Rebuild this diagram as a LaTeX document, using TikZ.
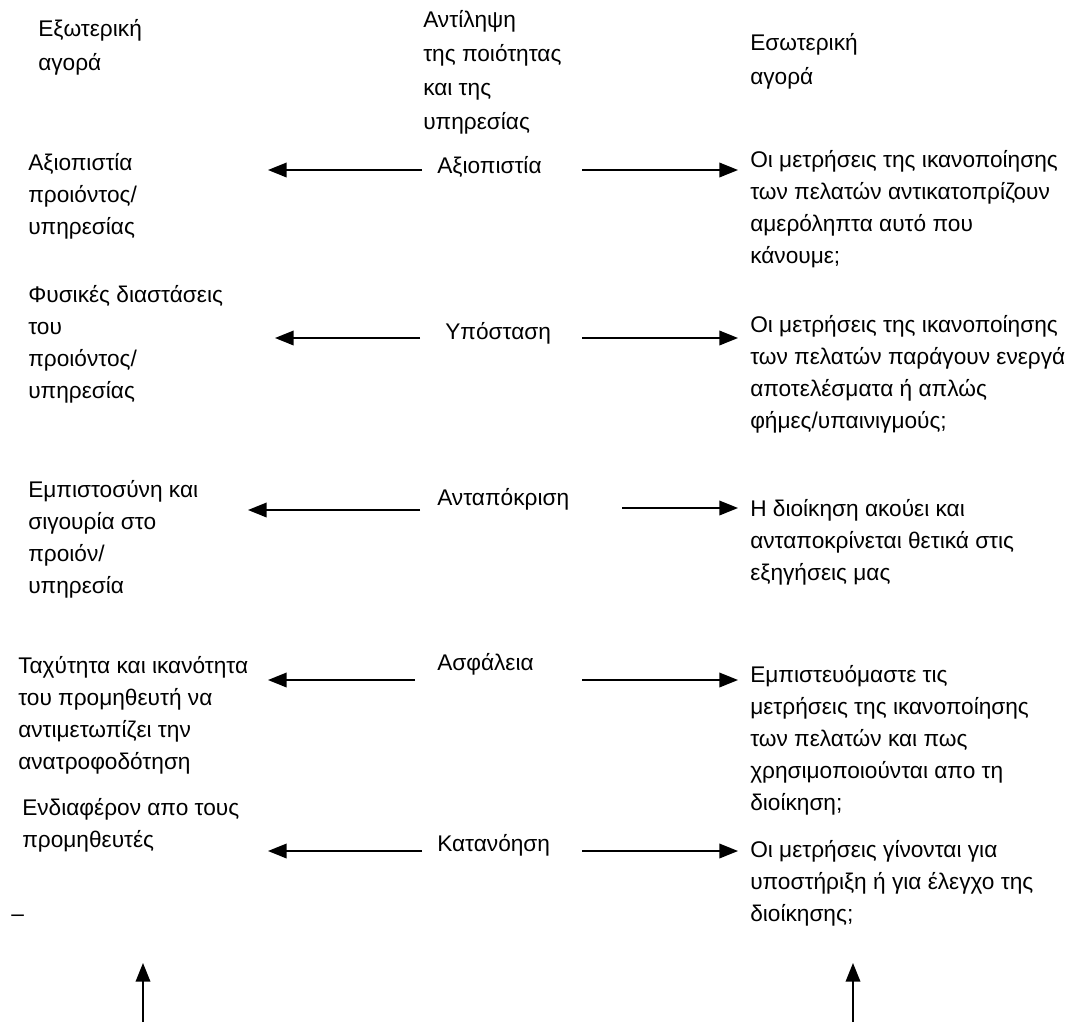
\documentclass[tikz,border=0pt]{standalone}
\usepackage{fontspec}
\setmainfont{Liberation Sans}
\usetikzlibrary{arrows.meta}
\begin{document}
\begin{tikzpicture}[x=0.75pt,y=-0.75pt,
  txt/.style={anchor=north west,inner sep=0pt,align=left,
    font=\fontsize{17}{24}\selectfont},
  head/.style={txt,font=\fontsize{17}{25.5}\selectfont},
  arr/.style={line width=1.1pt,-{Triangle[length=14pt,width=11pt]}}]
\useasboundingbox (0,0) rectangle (1072,1022);

% column headings
\node[head] (hExt) at (38,19) {Εξωτερική\\αγορά};
\node[head] (hMid) at (423,10) {Αντίληψη\\της ποιότητας\\και της\\υπηρεσίας};
\node[head] (hInt) at (750,33) {Εσωτερική\\αγορά};

% row 1
\node[txt] (l1) at (28,153) {Αξιοπιστία\\προιόντος/\\υπηρεσίας};
\node[txt] (m1) at (437,156) {Αξιοπιστία};
\node[txt] (r1) at (750,150) {Οι μετρήσεις της ικανοποίησης\\των πελατών αντικατοπρίζουν\\αμερόληπτα αυτό που\\κάνουμε;};
\coordinate (a1l) at (422,170); \coordinate (a1L) at (268,170);
\coordinate (a1r) at (582,170); \coordinate (a1R) at (738,170);
\draw[arr] (a1l) -- (a1L);
\draw[arr] (a1r) -- (a1R);

% row 2
\node[txt] (l2) at (28,285) {Φυσικές διαστάσεις\\του\\προιόντος/\\υπηρεσίας};
\node[txt] (m2) at (445,322) {Υπόσταση};
\node[txt] (r2) at (750,315) {Οι μετρήσεις της ικανοποίησης\\των πελατών παράγουν ενεργά\\αποτελέσματα ή απλώς\\φήμες/υπαινιγμούς;};
\coordinate (a2l) at (420,338); \coordinate (a2L) at (275,338);
\coordinate (a2r) at (582,338); \coordinate (a2R) at (738,338);
\draw[arr] (a2l) -- (a2L);
\draw[arr] (a2r) -- (a2R);

% row 3
\node[txt] (l3) at (28,480) {Εμπιστοσύνη και\\σιγουρία στο\\προιόν/\\υπηρεσία};
\node[txt] (m3) at (437,488) {Ανταπόκριση};
\node[txt] (r3) at (750,499) {Η διοίκηση ακούει και\\ανταποκρίνεται θετικά στις\\εξηγήσεις μας};
\coordinate (a3l) at (420,510); \coordinate (a3L) at (248,510);
\coordinate (a3r) at (622,508); \coordinate (a3R) at (738,508);
\draw[arr] (a3l) -- (a3L);
\draw[arr] (a3r) -- (a3R);

% row 4
\node[txt] (l4) at (18,656) {Ταχύτητα και ικανότητα\\του προμηθευτή να\\αντιμετωπίζει την\\ανατροφοδότηση};
\node[txt] (m4) at (437,653) {Ασφάλεια};
\node[txt] (r4) at (750,665) {Εμπιστευόμαστε τις\\μετρήσεις της ικανοποίησης\\των πελατών και πως\\χρησιμοποιούνται απο τη\\διοίκηση;};
\coordinate (a4l) at (415,680); \coordinate (a4L) at (268,680);
\coordinate (a4r) at (582,680); \coordinate (a4R) at (738,680);
\draw[arr] (a4l) -- (a4L);
\draw[arr] (a4r) -- (a4R);

% row 5
\node[txt] (l5) at (22,798) {Ενδιαφέρον απο τους\\προμηθευτές};
\node[txt] (m5) at (437,834) {Κατανόηση};
\node[txt] (r5) at (750,840) {Οι μετρήσεις γίνονται για\\υποστήριξη ή για έλεγχο της\\διοίκησης;};
\coordinate (a5l) at (422,851); \coordinate (a5L) at (268,851);
\coordinate (a5r) at (582,851); \coordinate (a5R) at (738,851);
\draw[arr] (a5l) -- (a5L);
\draw[arr] (a5r) -- (a5R);

% stray dash and the two upward arrows at the foot
\node[txt] (dash) at (11,915) {–};
\coordinate (bL0) at (143,1022); \coordinate (bL1) at (143,963);
\coordinate (bR0) at (853,1022); \coordinate (bR1) at (853,963);
\draw[arr] (bL0) -- (bL1);
\draw[arr] (bR0) -- (bR1);
\end{tikzpicture}
\end{document}
